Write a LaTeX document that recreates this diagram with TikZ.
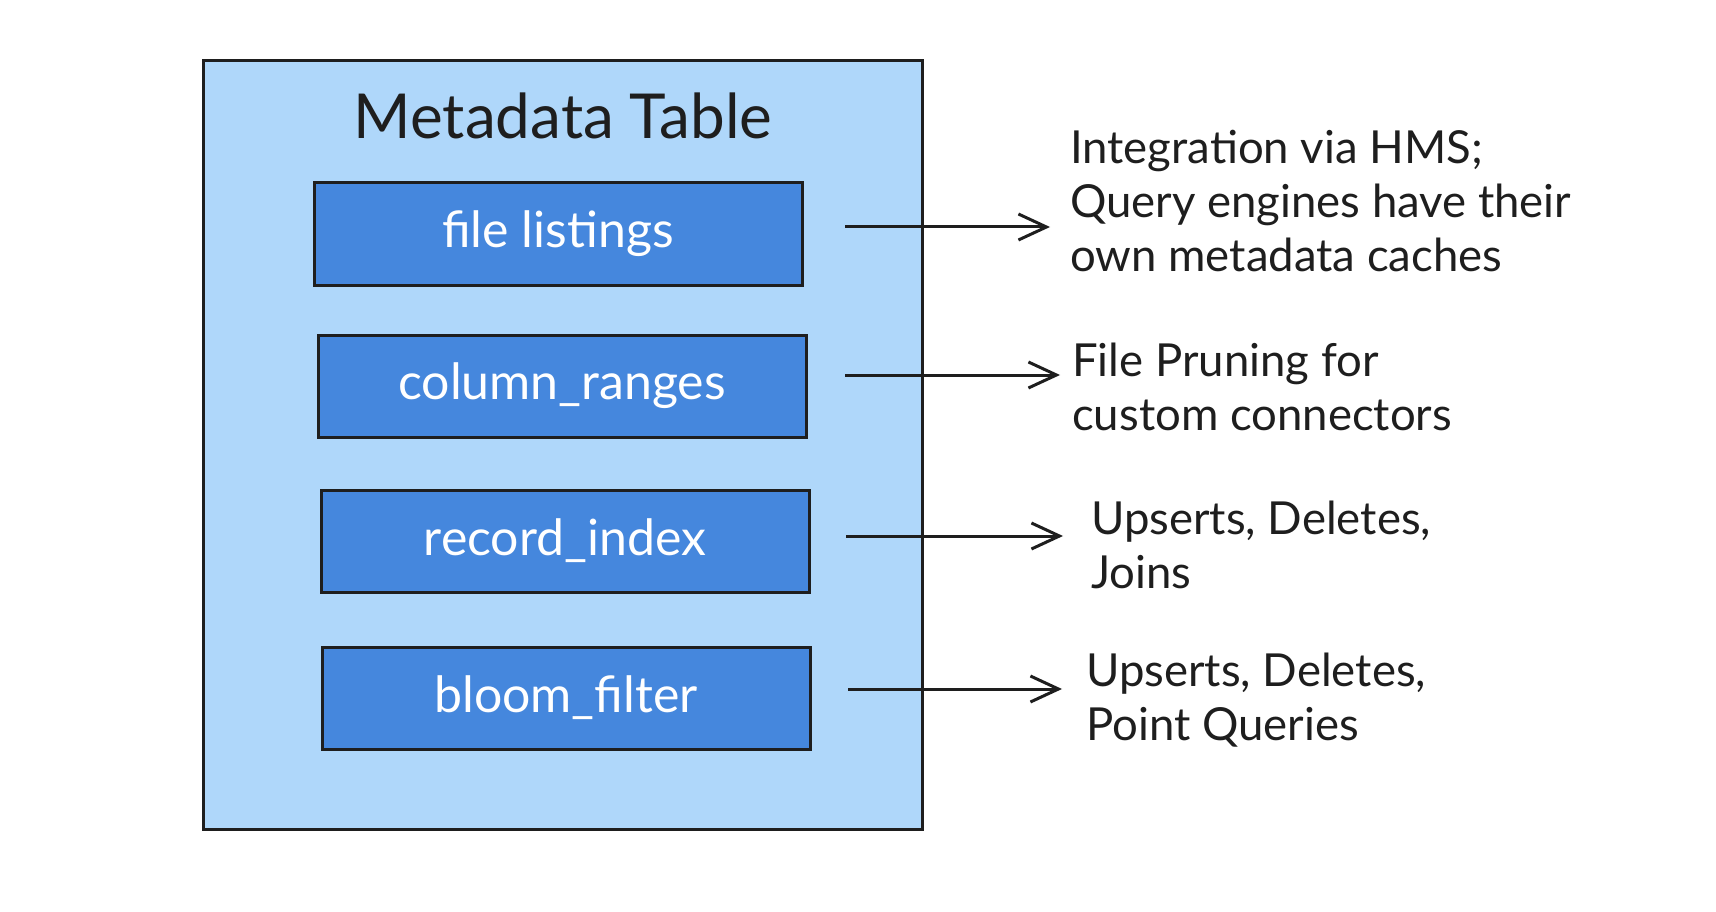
\documentclass[tikz,border=0pt]{standalone}
\usepackage{fontspec}
\setmainfont{Lato}
\usetikzlibrary{arrows.meta}
\definecolor{outerfill}{RGB}{175,215,250}
\definecolor{innerfill}{RGB}{69,135,221}
\definecolor{ink}{RGB}{30,30,30}
\begin{document}
\begin{tikzpicture}[x=1pt,y=-1pt,
  outerbox/.style={draw=ink,line width=3pt,fill=outerfill},
  itembox/.style={draw=ink,line width=3pt,fill=innerfill,minimum width=488pt,minimum height=102pt,text=white,font=\fontsize{50}{56}\selectfont},
  note/.style={anchor=west,align=left,text=ink,font=\fontsize{45.5}{54}\selectfont,inner sep=0pt},
  arr/.style={draw=ink,line width=3pt,-{Straight Barb[length=28pt,width=26pt,line width=3pt]}}]
\useasboundingbox (0,0) rectangle (1716,912);
\node[outerbox,minimum width=719pt,minimum height=769pt,inner sep=0pt] (outer) at (563,445) {};
\node[text=ink,font=\fontsize{62}{66}\selectfont] (title) at (563,116) {Metadata Table};
\node[itembox] (b1) at (558,234) {file listings};
\node[itembox] (b2) at (562,386) {column\_ranges};
\node[itembox] (b3) at (565,541) {record\_index};
\node[itembox] (b4) at (566,698) {bloom\_filter};
\node[note] (t1) at (1070,201) {Integration via HMS;\\Query engines have their\\own metadata caches};
\node[note] (t2) at (1072,387) {File Pruning for\\custom connectors};
\node[note] (t3) at (1091,545) {Upserts, Deletes,\\Joins};
\node[note] (t4) at (1086,700) {Upserts, Deletes,\\Point Queries};
\coordinate (s1) at (845,227);
\coordinate (s2) at (845,375);
\coordinate (s3) at (846,536);
\coordinate (s4) at (848,689);
\draw[arr,shorten >=20pt] (s1) -- (s1 -| t1.west);
\draw[arr,shorten >=12pt] (s2) -- (s2 -| t2.west);
\draw[arr,shorten >=28pt] (s3) -- (s3 -| t3.west);
\draw[arr,shorten >=24pt] (s4) -- (s4 -| t4.west);
\end{tikzpicture}
\end{document}
